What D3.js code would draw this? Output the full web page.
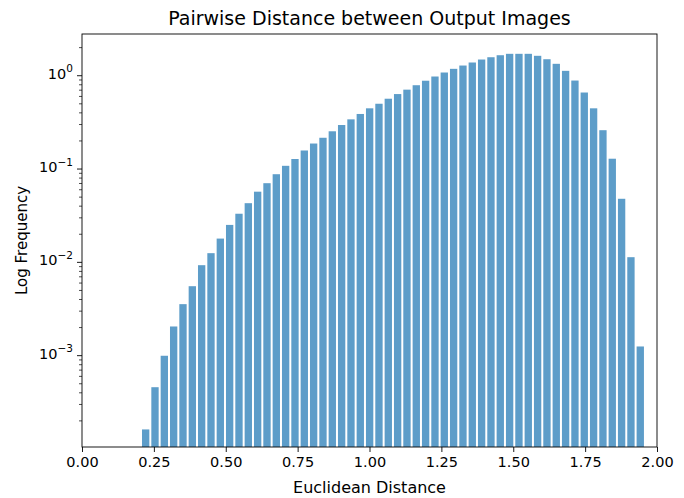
<!DOCTYPE html>
<html>
<head>
<meta charset="utf-8">
<script src="https://cdn.jsdelivr.net/npm/d3@7"></script>
<style>
  body { margin: 0; background: #fff; }
  text { font-family: "DejaVu Sans", sans-serif; fill: #000; }
</style>
</head>
<body>
<svg></svg>
<script>
// histogram bins (left edge of first bin, bin width)
const binStart = 0.2052;
const binWidth = 0.03246;

// frequency (density) of each bin
const freqs = [
  1.64e-4, 4.65e-4, 1.01e-3, 2.08e-3, 3.61e-3, 5.62e-3, 9.44e-3, 1.27e-2,
  1.82e-2, 2.55e-2, 3.36e-2, 4.36e-2, 5.79e-2, 7.14e-2, 8.91e-2, 0.1096,
  0.1297, 0.160, 0.190, 0.219, 0.257, 0.300, 0.345, 0.394,
  0.453, 0.507, 0.574, 0.644, 0.718, 0.801, 0.895, 0.993,
  1.096, 1.200, 1.302, 1.403, 1.510, 1.598, 1.679, 1.738,
  1.738, 1.738, 1.655, 1.521, 1.358, 1.142, 0.899, 0.669,
  0.453, 0.264, 0.1306, 0.0486, 0.0115, 1.27e-3
];

const xTicks = [0, 0.25, 0.5, 0.75, 1.0, 1.25, 1.5, 1.75, 2.0];
const yTicks = [1e-3, 1e-2, 1e-1, 1];
const yExps = ["\u22123", "\u22122", "\u22121", "0"];

let width = 684,
  height = 498;
const margin = { top: 34, right: 27, bottom: 51, left: 82 };

let svg = d3.select("svg").attr("width", width).attr("height", height);

let x = d3.scaleLinear().domain([0, 2]).range([margin.left, width - margin.right]);
let y = d3.scaleLog().domain([1.05e-4, 2.8]).range([height - margin.bottom, margin.top]);

const bins = freqs.map((f, i) => ({
  x0: binStart + i * binWidth,
  x1: binStart + (i + 1) * binWidth,
  f: f,
}));

// bars
svg
  .append("g")
  .selectAll("rect")
  .data(bins)
  .enter()
  .append("rect")
  .attr("x", (d) => x(d.x0) + 1)
  .attr("width", (d) => x(d.x1) - x(d.x0) - 2)
  .attr("y", (d) => y(d.f) + 0.5)
  .attr("height", (d) => y.range()[0] - y(d.f) - 0.5)
  .attr("fill", "#1f77b4")
  .attr("fill-opacity", 0.72);

// x axis
let xAxis = d3
  .axisBottom(x)
  .tickValues(xTicks)
  .tickFormat(d3.format(".2f"))
  .tickSize(5)
  .tickPadding(5);
let gx = svg
  .append("g")
  .attr("transform", `translate(0,${height - margin.bottom})`)
  .call(xAxis);
gx.select(".domain").remove();
gx.selectAll("line").attr("stroke", "#000").attr("stroke-width", 0.9);
gx.selectAll("text").attr("font-size", 14.5).attr("fill", "#000").attr("font-family", "DejaVu Sans");

// y axis: minor ticks
const minor = [];
for (let e = -4; e <= 0; e++) {
  for (let m = 2; m <= 9; m++) {
    const v = m * Math.pow(10, e);
    if (v >= y.domain()[0] && v <= y.domain()[1]) minor.push(v);
  }
}
svg
  .append("g")
  .selectAll("line")
  .data(minor)
  .enter()
  .append("line")
  .attr("x1", margin.left - 3)
  .attr("x2", margin.left)
  .attr("y1", (d) => y(d))
  .attr("y2", (d) => y(d))
  .attr("stroke", "#000")
  .attr("stroke-width", 0.7);

// y axis: major ticks and labels
let gy = svg.append("g");
gy.selectAll("line")
  .data(yTicks)
  .enter()
  .append("line")
  .attr("x1", margin.left - 5)
  .attr("x2", margin.left)
  .attr("y1", (d) => y(d))
  .attr("y2", (d) => y(d))
  .attr("stroke", "#000")
  .attr("stroke-width", 0.9);

let labels = gy
  .selectAll("text")
  .data(yTicks)
  .enter()
  .append("text")
  .attr("x", margin.left - 9)
  .attr("y", (d) => y(d) + 3)
  .attr("text-anchor", "end")
  .attr("font-size", 14.5);
labels.append("tspan").text("10");
labels
  .append("tspan")
  .attr("dy", -6.5)
  .attr("font-size", 10.5)
  .text((d, i) => yExps[i]);

// frame
svg
  .append("rect")
  .attr("x", margin.left)
  .attr("y", margin.top)
  .attr("width", width - margin.left - margin.right)
  .attr("height", height - margin.top - margin.bottom)
  .attr("fill", "none")
  .attr("stroke", "#000")
  .attr("stroke-width", 0.9);

// title and axis labels
svg
  .append("text")
  .attr("x", (margin.left + width - margin.right) / 2)
  .attr("y", 25)
  .attr("text-anchor", "middle")
  .attr("font-size", 19)
  .text("Pairwise Distance between Output Images");

svg
  .append("text")
  .attr("x", (margin.left + width - margin.right) / 2)
  .attr("y", 493)
  .attr("text-anchor", "middle")
  .attr("font-size", 16)
  .text("Euclidean Distance");

svg
  .append("text")
  .attr("transform", `translate(27,${(margin.top + height - margin.bottom) / 2}) rotate(-90)`)
  .attr("text-anchor", "middle")
  .attr("font-size", 15)
  .text("Log Frequency");
</script>
</body>
</html>
